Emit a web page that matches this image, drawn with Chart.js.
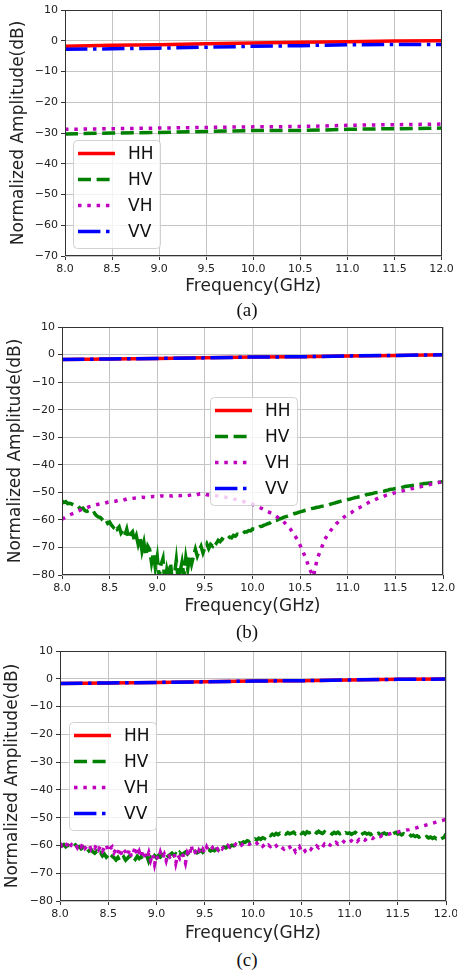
<!DOCTYPE html>
<html>
<head>
<meta charset="utf-8">
<script src="https://cdn.jsdelivr.net/npm/chart.js@4.4.0/dist/chart.umd.min.js"></script>
<style>
  html, body { margin: 0; padding: 0; background: #fff; }
  body { width: 457px; height: 975px; position: relative; overflow: hidden; }
  canvas { position: absolute; left: 0; }
  .cap { position: absolute; left: 247px; transform: translate(-50%, -50%); font: 19px 'Liberation Serif', serif; color: #111; }
</style>
</head>
<body>
<canvas id="chartA" style="top:0px"></canvas>
<div class="cap" style="top:310px">(a)</div>
<canvas id="chartB" style="top:317px"></canvas>
<div class="cap" style="top:632px">(b)</div>
<canvas id="chartC" style="top:641px"></canvas>
<div class="cap" style="top:960px">(c)</div>
<script>
// tick labels
const freqTicks = [8.0, 8.5, 9.0, 9.5, 10.0, 10.5, 11.0, 11.5, 12.0];
const yTicksA = [-70, -60, -50, -40, -30, -20, -10, 0, 10];
const yTicksBC = [-80, -70, -60, -50, -40, -30, -20, -10, 0, 10];

// frequency grids (GHz)
const freqCoarse = [8.0, 8.5, 9.0, 9.5, 10.0, 10.5, 11.0, 11.5, 12.0];
const freqMid = [
  8.00, 8.04, 8.08, 8.12, 8.16, 8.20, 8.24, 8.28, 8.32, 8.36,
  8.40, 8.44, 8.48, 8.52, 8.56, 8.60, 8.64, 8.68, 8.72, 8.76,
  8.80, 8.84, 8.88, 8.92, 8.96, 9.00, 9.04, 9.08, 9.12, 9.16,
  9.20, 9.24, 9.28, 9.32, 9.36, 9.40, 9.44, 9.48, 9.52, 9.56,
  9.60, 9.64, 9.68, 9.72, 9.76, 9.80, 9.84, 9.88, 9.92, 9.96,
  10.00, 10.04, 10.08, 10.12, 10.16, 10.20, 10.24, 10.28, 10.32, 10.36,
  10.40, 10.44, 10.48, 10.52, 10.56, 10.60, 10.64, 10.68, 10.72, 10.76,
  10.80, 10.84, 10.88, 10.92, 10.96, 11.00, 11.04, 11.08, 11.12, 11.16,
  11.20, 11.24, 11.28, 11.32, 11.36, 11.40, 11.44, 11.48, 11.52, 11.56,
  11.60, 11.64, 11.68, 11.72, 11.76, 11.80, 11.84, 11.88, 11.92, 11.96,
  12.00
];
const freqFine = [
  8.00, 8.02, 8.04, 8.06, 8.08, 8.10, 8.12, 8.14, 8.16, 8.18,
  8.20, 8.22, 8.24, 8.26, 8.28, 8.30, 8.32, 8.34, 8.36, 8.38,
  8.40, 8.42, 8.44, 8.46, 8.48, 8.50, 8.52, 8.54, 8.56, 8.58,
  8.60, 8.62, 8.64, 8.66, 8.68, 8.70, 8.72, 8.74, 8.76, 8.78,
  8.80, 8.82, 8.84, 8.86, 8.88, 8.90, 8.92, 8.94, 8.96, 8.98,
  9.00, 9.02, 9.04, 9.06, 9.08, 9.10, 9.12, 9.14, 9.16, 9.18,
  9.20, 9.22, 9.24, 9.26, 9.28, 9.30, 9.32, 9.34, 9.36, 9.38,
  9.40, 9.42, 9.44, 9.46, 9.48, 9.50, 9.52, 9.54, 9.56, 9.58,
  9.60, 9.62, 9.64, 9.66, 9.68, 9.70, 9.72, 9.74, 9.76, 9.78,
  9.80, 9.82, 9.84, 9.86, 9.88, 9.90, 9.92, 9.94, 9.96, 9.98,
  10.00, 10.02, 10.04, 10.06, 10.08, 10.10, 10.12, 10.14, 10.16, 10.18,
  10.20, 10.22, 10.24, 10.26, 10.28, 10.30, 10.32, 10.34, 10.36, 10.38,
  10.40, 10.42, 10.44, 10.46, 10.48, 10.50, 10.52, 10.54, 10.56, 10.58,
  10.60, 10.62, 10.64, 10.66, 10.68, 10.70, 10.72, 10.74, 10.76, 10.78,
  10.80, 10.82, 10.84, 10.86, 10.88, 10.90, 10.92, 10.94, 10.96, 10.98,
  11.00, 11.02, 11.04, 11.06, 11.08, 11.10, 11.12, 11.14, 11.16, 11.18,
  11.20, 11.22, 11.24, 11.26, 11.28, 11.30, 11.32, 11.34, 11.36, 11.38,
  11.40, 11.42, 11.44, 11.46, 11.48, 11.50, 11.52, 11.54, 11.56, 11.58,
  11.60, 11.62, 11.64, 11.66, 11.68, 11.70, 11.72, 11.74, 11.76, 11.78,
  11.80, 11.82, 11.84, 11.86, 11.88, 11.90, 11.92, 11.94, 11.96, 11.98,
  12.00
];

// panel (a)
const hhA = [-1.8, -1.5, -1.3, -1.0, -0.7, -0.5, -0.3, -0.1, 0.0];
const hvA = [-30.3, -30.0, -29.8, -29.5, -29.2, -29.2, -28.8, -28.6, -28.4];
const vhA = [-28.8, -28.6, -28.4, -28.2, -28.0, -27.9, -27.5, -27.3, -27.1];
const vvA = [-2.8, -2.6, -2.4, -2.1, -1.8, -1.6, -1.3, -1.2, -1.2];

// panel (b)
const hhB = [-1.8, -1.6, -1.4, -1.2, -0.9, -0.8, -0.5, -0.3, -0.1];
const vvB = [-1.8, -1.6, -1.4, -1.2, -0.9, -0.8, -0.5, -0.3, -0.1];
// HV on freqFine
const hvB = [
  -53.2, -53.7, -53.4, -54.1, -54.0, -54.2, -54.6, -54.9, -54.8, -55.5,
  -56.0, -55.7, -56.6, -56.9, -56.6, -57.4, -57.8, -57.5, -58.4, -58.9,
  -59.1, -59.8, -60.5, -59.9, -61.3, -60.8, -61.9, -62.7, -61.8, -63.3,
  -62.5, -64.8, -63.9, -65.6, -63.4, -66.8, -65.1, -64.3, -67.5, -65.7,
  -68.9, -66.4, -71.3, -68.2, -73.0, -69.5, -70.8, -75.6, -71.9, -77.4,
  -73.4, -80.8, -76.2, -74.0, -83.0, -78.1, -81.5, -75.5, -84.0, -80.3,
  -74.6, -82.0, -78.8, -75.3, -80.4, -73.7, -77.9, -72.8, -76.1, -73.2,
  -70.6, -73.1, -71.2, -69.6, -72.0, -70.1, -68.7, -70.4, -68.9, -69.5,
  -67.8, -68.5, -67.4, -67.9, -66.9, -67.3, -66.6, -66.9, -66.2, -66.5,
  -65.6, -65.9, -65.2, -65.4, -64.8, -64.9, -64.3, -64.4, -63.9, -64.0,
  -63.3, -63.4, -62.9, -62.9, -62.4, -62.3, -61.9, -61.7, -61.4, -61.2,
  -60.6, -60.7, -60.2, -60.1, -59.7, -59.5, -59.2, -58.9, -58.7, -58.4,
  -58.2, -58.0, -57.7, -57.6, -57.3, -57.1, -56.9, -56.7, -56.5, -56.3,
  -56.1, -55.9, -55.8, -55.6, -55.4, -55.3, -55.1, -55.0, -54.9, -54.8,
  -54.6, -54.3, -54.1, -53.9, -53.7, -53.5, -53.3, -53.1, -52.9, -52.8,
  -52.6, -52.5, -52.3, -52.1, -51.9, -51.8, -51.6, -51.5, -51.3, -51.2,
  -50.8, -50.7, -50.5, -50.4, -50.2, -50.1, -50.0, -49.8, -49.7, -49.6,
  -49.3, -49.2, -49.0, -48.9, -48.8, -48.6, -48.5, -48.4, -48.3, -48.1,
  -47.9, -47.8, -47.7, -47.6, -47.5, -47.4, -47.3, -47.2, -47.1, -47.0,
  -46.8, -46.8, -46.7, -46.6, -46.5, -46.5, -46.4, -46.3, -46.3, -46.2,
  -46.0
];
// VH on freqMid
const vhB = [
  -59.8, -59.0, -58.2, -57.6, -56.9, -56.3, -55.9, -55.3, -54.9, -54.5,
  -54.2, -54.0, -53.6, -53.3, -53.2, -52.8, -52.9, -52.4, -52.3, -52.1,
  -52.0, -51.8, -51.9, -51.6, -51.5, -51.6, -51.3, -51.4, -51.2, -51.3,
  -51.1, -51.2, -51.0, -51.2, -50.9, -51.1, -50.6, -50.4, -50.9, -51.0,
  -51.1, -51.3, -51.5, -51.8, -52.1, -52.4, -52.7, -53.1, -53.5, -53.9,
  -54.3, -54.9, -55.6, -56.2, -57.0, -57.6, -58.4, -59.6, -60.3, -62.0,
  -63.4, -65.5, -67.6, -70.8, -73.9, -78.0, -80.5, -74.0, -70.6, -67.0,
  -64.8, -63.0, -61.4, -60.1, -59.0, -58.1, -57.3, -56.1, -55.6, -54.9,
  -54.1, -53.2, -52.8, -52.1, -51.7, -51.1, -50.8, -50.3, -50.0, -49.6,
  -49.3, -48.9, -48.6, -48.2, -48.0, -47.6, -47.3, -47.0, -46.7, -46.4,
  -46.1
];

// panel (c)
const hhC = [-1.7, -1.5, -1.3, -1.1, -0.8, -0.7, -0.4, -0.2, -0.1];
const vvC = [-1.7, -1.5, -1.3, -1.1, -0.8, -0.7, -0.4, -0.2, -0.1];
// HV and VH on freqFine
const hvC = [
  -59.4, -60.2, -59.7, -60.5, -59.9, -60.1, -60.8, -60.3, -59.8, -60.6,
  -60.4, -61.2, -60.7, -61.6, -61.1, -62.0, -61.4, -62.3, -62.8, -62.1,
  -63.2, -62.6, -63.8, -63.1, -64.2, -63.5, -64.7, -63.9, -64.4, -65.2,
  -64.3, -65.6, -64.8, -64.1, -65.3, -64.6, -63.8, -64.9, -64.2, -65.0,
  -63.9, -64.7, -64.1, -65.4, -64.5, -63.8, -65.8, -64.3, -64.9, -63.7,
  -64.5, -63.6, -64.2, -63.4, -64.0, -63.1, -63.9, -63.3, -62.8, -63.6,
  -63.0, -63.7, -62.6, -63.3, -62.9, -62.4, -63.1, -62.2, -62.8, -62.5,
  -62.1, -62.7, -62.3, -61.8, -62.5, -61.9, -62.2, -61.5, -62.0, -61.6,
  -61.9, -61.3, -61.6, -60.9, -61.2, -60.6, -60.9, -60.3, -60.5, -59.9,
  -60.1, -59.5, -59.8, -59.1, -59.3, -58.7, -58.9, -58.3, -58.6, -58.0,
  -58.2, -57.7, -58.0, -57.4, -57.8, -57.2, -57.5, -56.4, -56.1, -56.5,
  -55.9, -56.3, -55.7, -56.1, -55.6, -56.0, -55.5, -55.9, -55.4, -55.8,
  -55.6, -55.2, -55.8, -55.4, -55.0, -55.7, -55.3, -55.9, -55.1, -55.5,
  -55.3, -55.8, -55.0, -55.5, -54.9, -55.4, -55.7, -55.1, -55.6, -55.2,
  -55.4, -55.9, -55.3, -55.7, -55.2, -55.8, -55.5, -56.0, -55.4, -55.7,
  -55.5, -56.0, -55.6, -55.3, -55.9, -55.5, -56.1, -55.7, -55.4, -55.9,
  -55.6, -56.1, -55.7, -55.4, -55.9, -55.6, -56.2, -55.8, -55.5, -56.0,
  -55.7, -55.4, -56.0, -55.6, -55.3, -55.9, -55.7, -56.2, -55.8, -56.1,
  -56.4, -56.0, -56.6, -56.3, -56.8, -56.5, -57.0, -56.6, -56.9, -57.2,
  -56.8, -57.3, -57.0, -57.5, -57.1, -57.6, -57.3, -57.8, -57.4, -57.1,
  -55.8
];
const vhC = [
  -59.2, -60.1, -59.5, -60.4, -59.0, -60.6, -59.7, -60.2, -59.4, -60.8,
  -59.6, -60.5, -59.1, -61.0, -60.2, -59.5, -61.3, -60.1, -60.9, -59.7,
  -61.4, -60.2, -62.0, -60.8, -59.6, -62.3, -61.1, -60.5, -62.6, -61.3,
  -62.9, -60.9, -63.4, -61.6, -62.4, -63.8, -61.3, -64.2, -62.7, -60.4,
  -63.5, -62.1, -64.4, -61.7, -63.8, -64.9, -62.6, -65.3, -63.1, -66.8,
  -63.7, -65.1, -62.5, -64.6, -63.2, -65.5, -62.9, -64.1, -63.5, -62.7,
  -66.4, -63.4, -64.6, -62.8, -63.9, -66.3, -62.7, -64.0, -59.9, -63.2,
  -62.4, -63.6, -61.8, -62.9, -61.4, -62.7, -60.6, -62.1, -61.5, -60.8,
  -61.9, -60.7, -61.6, -60.4, -61.2, -60.2, -60.9, -60.0, -60.6, -59.8,
  -60.4, -59.6, -60.2, -59.4, -59.9, -59.2, -59.8, -59.3, -59.6, -59.1,
  -59.4, -59.9, -59.2, -60.1, -59.5, -60.3, -59.7, -60.6, -59.9, -60.4,
  -59.8, -60.7, -60.1, -61.0, -60.3, -60.8, -61.3, -60.5, -61.1, -60.6,
  -61.6, -60.7, -62.2, -61.1, -60.4, -61.8, -60.9, -62.0, -61.2, -60.6,
  -61.4, -60.5, -61.1, -60.2, -60.8, -59.9, -60.6, -59.6, -60.3, -59.5,
  -59.9, -59.2, -59.7, -58.9, -59.5, -58.8, -59.3, -58.6, -59.1, -58.5,
  -58.8, -58.3, -58.9, -58.1, -58.6, -57.9, -58.4, -57.7, -58.1, -57.5,
  -57.8, -57.2, -57.5, -56.9, -57.1, -56.6, -56.8, -56.3, -56.4, -56.0,
  -56.0, -55.8, -55.6, -55.5, -55.3, -55.2, -55.0, -54.9, -54.7, -54.6,
  -54.4, -54.3, -54.1, -53.9, -53.8, -53.6, -53.4, -53.2, -53.0, -52.8,
  -52.6, -52.4, -52.2, -52.0, -51.8, -51.6, -51.4, -51.2, -51.0, -50.8,
  -50.5
];

const styles = {
  HH: { color: '#ff0000', dash: [] },
  HV: { color: '#008000', dash: [13, 5.6] },
  VH: { color: '#bf00bf', dash: [3.5, 5.8] },
  VV: { color: '#0000ff', dash: [22.4, 5.6, 3.5, 5.6] }
};

const CANVAS_W = 480;
const TITLE_HALF = 10.2; // half line height of 17px axis titles

function minusFmt(v) {
  return v < 0 ? '\u2212' + Math.abs(v) : String(v);
}

// frame on top of the lines, then the legend box
const panelLegend = {
  id: 'panelLegend',
  afterDatasetsDraw(chart, args, opts) {
    const { ctx, chartArea: a } = chart;
    ctx.save();
    ctx.strokeStyle = '#333';
    ctx.lineWidth = 1;
    ctx.setLineDash([]);
    const l = Math.round(a.left) + 0.5, t = Math.round(a.top) + 0.5;
    const r = Math.round(a.right) - 0.5, b = Math.round(a.bottom) - 0.5;
    ctx.strokeRect(l, t, r - l, b - t);

    const x0 = opts.x, y0 = opts.y;
    ctx.beginPath();
    ctx.roundRect(x0 + 0.5, y0 + 0.5, 87, 108, 4);
    ctx.fillStyle = 'rgba(255,255,255,0.8)';
    ctx.fill();
    ctx.strokeStyle = 'rgba(204,204,204,0.9)';
    ctx.stroke();

    chart.data.datasets.forEach((ds, i) => {
      const y = y0 + 13.5 + i * 26;
      ctx.beginPath();
      ctx.setLineDash(ds.borderDash);
      ctx.strokeStyle = ds.borderColor;
      ctx.lineWidth = ds.borderWidth;
      ctx.moveTo(x0 + 5, y);
      ctx.lineTo(x0 + 42, y);
      ctx.stroke();
      ctx.setLineDash([]);
      ctx.fillStyle = '#111';
      ctx.font = '17px "DejaVu Sans"';
      ctx.textBaseline = 'middle';
      ctx.fillText(ds.label, x0 + 55, y + 1);
    });
    ctx.restore();
  }
};

function makePanel(id, series, yTicks, geo) {
  const canvas = document.getElementById(id);
  canvas.width = CANVAS_W;
  canvas.height = geo.height;

  const datasets = series.map((s, i) => ({
    label: s.name,
    data: s.x.map((x, j) => ({ x, y: s.y[j] })),
    borderColor: styles[s.name].color,
    backgroundColor: styles[s.name].color,
    borderDash: styles[s.name].dash,
    borderWidth: 3.5,
    borderCapStyle: 'butt',
    pointRadius: 0,
    tension: 0,
    fill: false,
    clip: 0,
    order: series.length - i
  }));

  return new Chart(canvas.getContext('2d'), {
    type: 'line',
    data: { datasets },
    options: {
      responsive: false,
      animation: false,
      events: [],
      layout: {
        padding: { top: 10, left: 0, right: CANVAS_W - geo.right, bottom: geo.height - geo.xTitleY - TITLE_HALF }
      },
      scales: {
        x: {
          type: 'linear',
          min: 8,
          max: 12,
          afterBuildTicks: s => { s.ticks = freqTicks.map(v => ({ value: v })); },
          afterFit: s => { s.height = geo.xTitleY + TITLE_HALF - geo.bottom; },
          ticks: { callback: v => v.toFixed(1), padding: 3, maxRotation: 0, autoSkip: false, font: { size: 11 }, color: '#222' },
          grid: { color: '#c4c4c4', lineWidth: 1, tickLength: 4, tickColor: '#333' },
          border: { display: false },
          title: { display: true, text: 'Frequency(GHz)', font: { size: 17 }, color: '#222', padding: { top: 0, bottom: 0 } }
        },
        y: {
          type: 'linear',
          min: yTicks[0],
          max: yTicks[yTicks.length - 1],
          afterBuildTicks: s => { s.ticks = yTicks.map(v => ({ value: v })); },
          afterFit: s => { s.width = geo.left; },
          ticks: { callback: v => minusFmt(v), padding: 3, autoSkip: false, font: { size: 11 }, color: '#222' },
          grid: { color: '#c4c4c4', lineWidth: 1, tickLength: 4, tickColor: '#333' },
          border: { display: false },
          title: { display: true, text: 'Normalized Amplitude(dB)', font: { size: 17 }, color: '#222', padding: { top: geo.yTitleX - TITLE_HALF, bottom: 0 } }
        }
      },
      plugins: {
        legend: { display: false },
        tooltip: { enabled: false },
        panelLegend: geo.legend
      }
    },
    plugins: [panelLegend]
  });
}

Chart.defaults.font.family = "'DejaVu Sans', sans-serif";
Chart.defaults.color = '#222';

makePanel('chartA', [
  { name: 'HH', x: freqCoarse, y: hhA },
  { name: 'HV', x: freqCoarse, y: hvA },
  { name: 'VH', x: freqCoarse, y: vhA },
  { name: 'VV', x: freqCoarse, y: vvA }
], yTicksA, { height: 301, left: 65, right: 441.5, bottom: 256, xTitleY: 287, yTitleX: 19, legend: { x: 73, y: 140 } });

makePanel('chartB', [
  { name: 'HH', x: freqCoarse, y: hhB },
  { name: 'HV', x: freqFine, y: hvB },
  { name: 'VH', x: freqMid, y: vhB },
  { name: 'VV', x: freqCoarse, y: vvB }
], yTicksBC, { height: 304, left: 62, right: 443, bottom: 258, xTitleY: 290, yTitleX: 16, legend: { x: 210, y: 80 } });

makePanel('chartC', [
  { name: 'HH', x: freqCoarse, y: hhC },
  { name: 'HV', x: freqFine, y: hvC },
  { name: 'VH', x: freqFine, y: vhC },
  { name: 'VV', x: freqCoarse, y: vvC }
], yTicksBC, { height: 307, left: 60, right: 446, bottom: 260, xTitleY: 293, yTitleX: 13, legend: { x: 69, y: 81 } });
</script>
</body>
</html>
